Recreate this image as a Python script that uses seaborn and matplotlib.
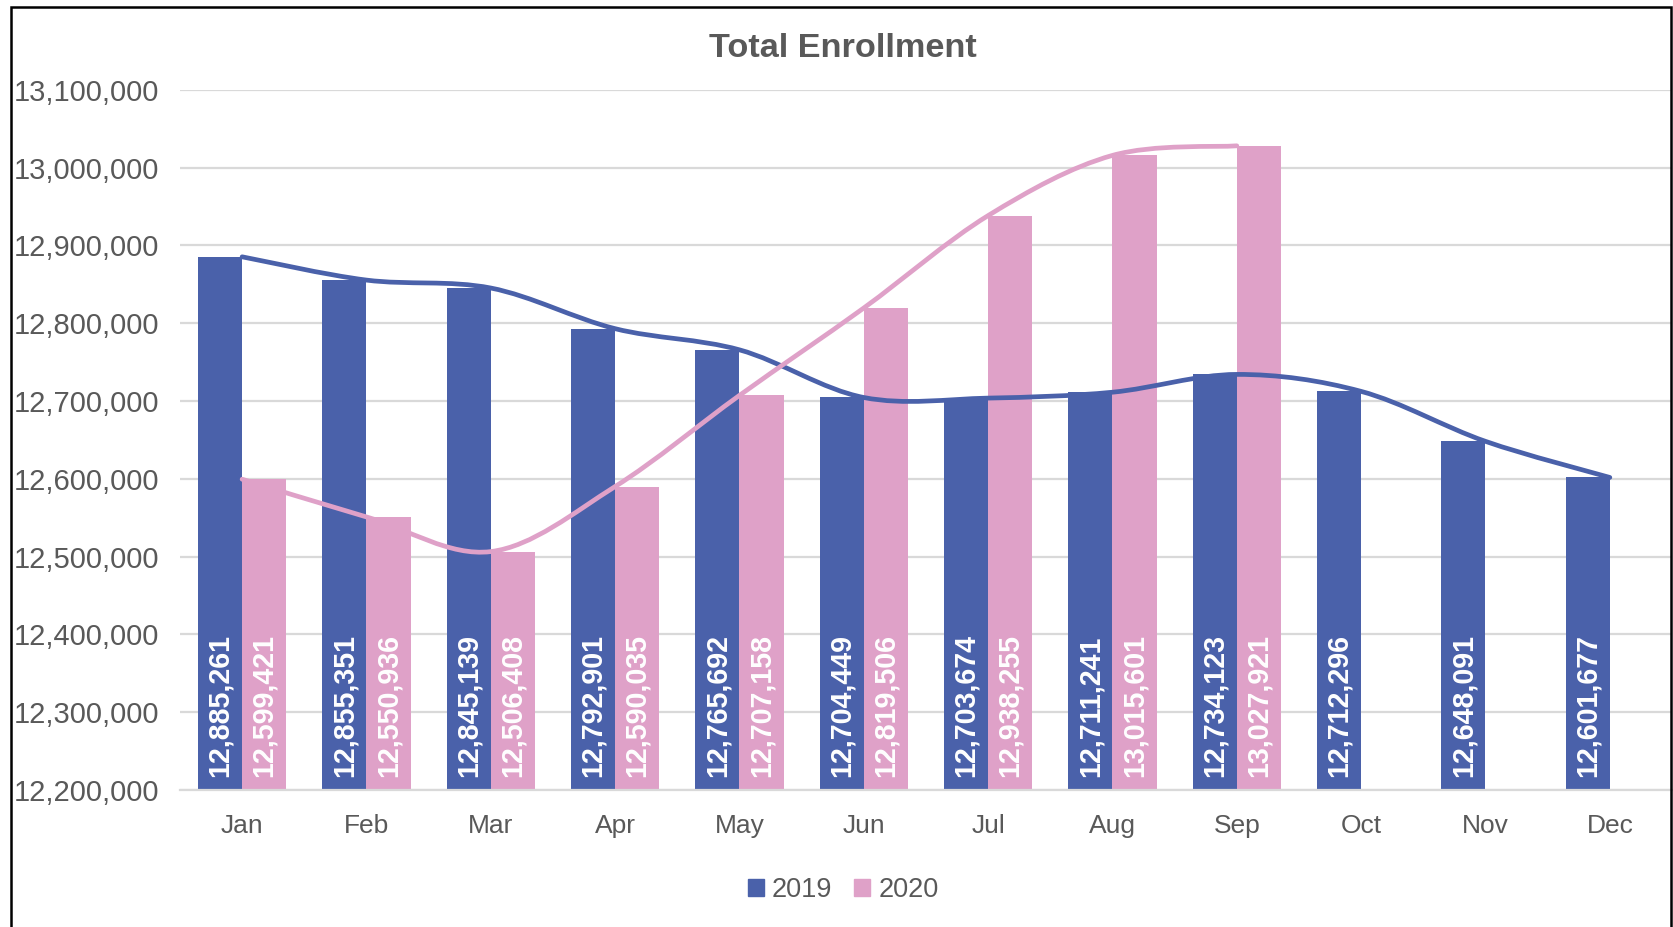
import numpy as np
import pandas as pd
import seaborn as sns
import matplotlib.pyplot as plt
from matplotlib.path import Path
from matplotlib.patches import PathPatch, Patch, Rectangle
from matplotlib.ticker import FuncFormatter

# values
months = ['Jan', 'Feb', 'Mar', 'Apr', 'May', 'Jun', 'Jul', 'Aug', 'Sep', 'Oct', 'Nov', 'Dec']
enroll_2019 = [12885261, 12855351, 12845139, 12792901, 12765692, 12704449,
               12703674, 12711241, 12734123, 12712296, 12648091, 12601677]
enroll_2020 = [12599421, 12550936, 12506408, 12590035, 12707158, 12819506,
               12938255, 13015601, 13027921]
years = ['2019', '2020']
colors = {'2019': '#4A61AA', '2020': '#DFA1C8'}
y_ticks = list(range(12200000, 13100001, 100000))

sns.set_theme(style='white')
plt.rcParams['font.family'] = ['Liberation Sans', 'DejaVu Sans']
grey = '#595959'

df = pd.DataFrame({
    'month': months * 2,
    'year': ['2019'] * 12 + ['2020'] * 12,
    'value': enroll_2019 + enroll_2020 + [np.nan] * (12 - len(enroll_2020)),
})

fig = plt.figure(figsize=(16.74, 9.27), dpi=100)
ax = fig.add_axes([0.1075, 0.1478, 0.8913, 0.7554])

sns.barplot(data=df.dropna(), x='month', y='value', hue='year', order=months,
            hue_order=years, palette=colors, width=0.71, saturation=1,
            errorbar=None, ax=ax, legend=False, linewidth=0, zorder=2)

ax.set_ylim(y_ticks[0], y_ticks[-1])
ax.set_xlim(-0.5, len(months) - 0.5)
ax.set_yticks(y_ticks)
ax.yaxis.set_major_formatter(FuncFormatter(lambda v, p: f'{int(v):,}'))
ax.grid(axis='y', color='#D9D9D9', lw=1.6, zorder=0)
ax.set_axisbelow(True)
for s in ['top', 'right', 'left']:
    ax.spines[s].set_visible(False)
ax.spines['bottom'].set_color('#D9D9D9')
ax.spines['bottom'].set_linewidth(1.6)
ax.tick_params(axis='y', length=0, pad=15, labelsize=21, labelcolor=grey)
ax.tick_params(axis='x', length=0, pad=17, labelsize=19, labelcolor=grey)
ax.set_xlabel('')
ax.set_ylabel('')

# value labels at the base of each bar
for cont in ax.containers:
    for bar in cont:
        h = bar.get_height()
        if np.isnan(h):
            continue
        ax.annotate(f'{int(round(h)):,}', (bar.get_x() + bar.get_width() / 2, y_ticks[0]),
                    xytext=(0, 9), textcoords='offset points', rotation=90,
                    ha='center', va='bottom', color='white', fontsize=20.6,
                    fontweight='bold', zorder=4)


# smoothed lines through the values (Catmull-Rom as bezier segments)
def smooth_path(vals):
    pts = np.column_stack([np.arange(len(vals)), np.asarray(vals, dtype=float)])
    verts = [pts[0]]
    codes = [Path.MOVETO]
    for i in range(len(pts) - 1):
        p0 = pts[i - 1] if i > 0 else pts[i]
        p3 = pts[i + 2] if i + 2 < len(pts) else pts[i + 1]
        c1 = pts[i] + (pts[i + 1] - p0) / 6
        c2 = pts[i + 1] - (p3 - pts[i]) / 6
        verts += [c1, c2, pts[i + 1]]
        codes += [Path.CURVE4] * 3
    return Path(verts, codes)


for yr, vals in zip(years, [enroll_2019, enroll_2020]):
    ax.add_patch(PathPatch(smooth_path(vals), fill=False, edgecolor=colors[yr],
                           lw=3.4, capstyle='round', zorder=3))

fig.text(0.5036, 0.948, 'Total Enrollment', ha='center', va='center',
         fontsize=24.7, fontweight='bold', color=grey)

handles = [Patch(color=colors[y], label=y) for y in years]
fig.legend(handles=handles, loc='center', bbox_to_anchor=(0.5036, 0.040), ncol=2,
           frameon=False, fontsize=19.5, handlelength=0.6, handleheight=0.6,
           handletextpad=0.3, columnspacing=0.8, labelcolor=grey)

# chart border (left, top, right)
fig.patches.append(Rectangle((11.5 / 1674, -0.02), (1671 - 11.5) / 1674, 1.02 - 7 / 927,
                             transform=fig.transFigure, fill=False, edgecolor='black',
                             lw=1.8, zorder=10))

plt.savefig('out.png', dpi=100)
